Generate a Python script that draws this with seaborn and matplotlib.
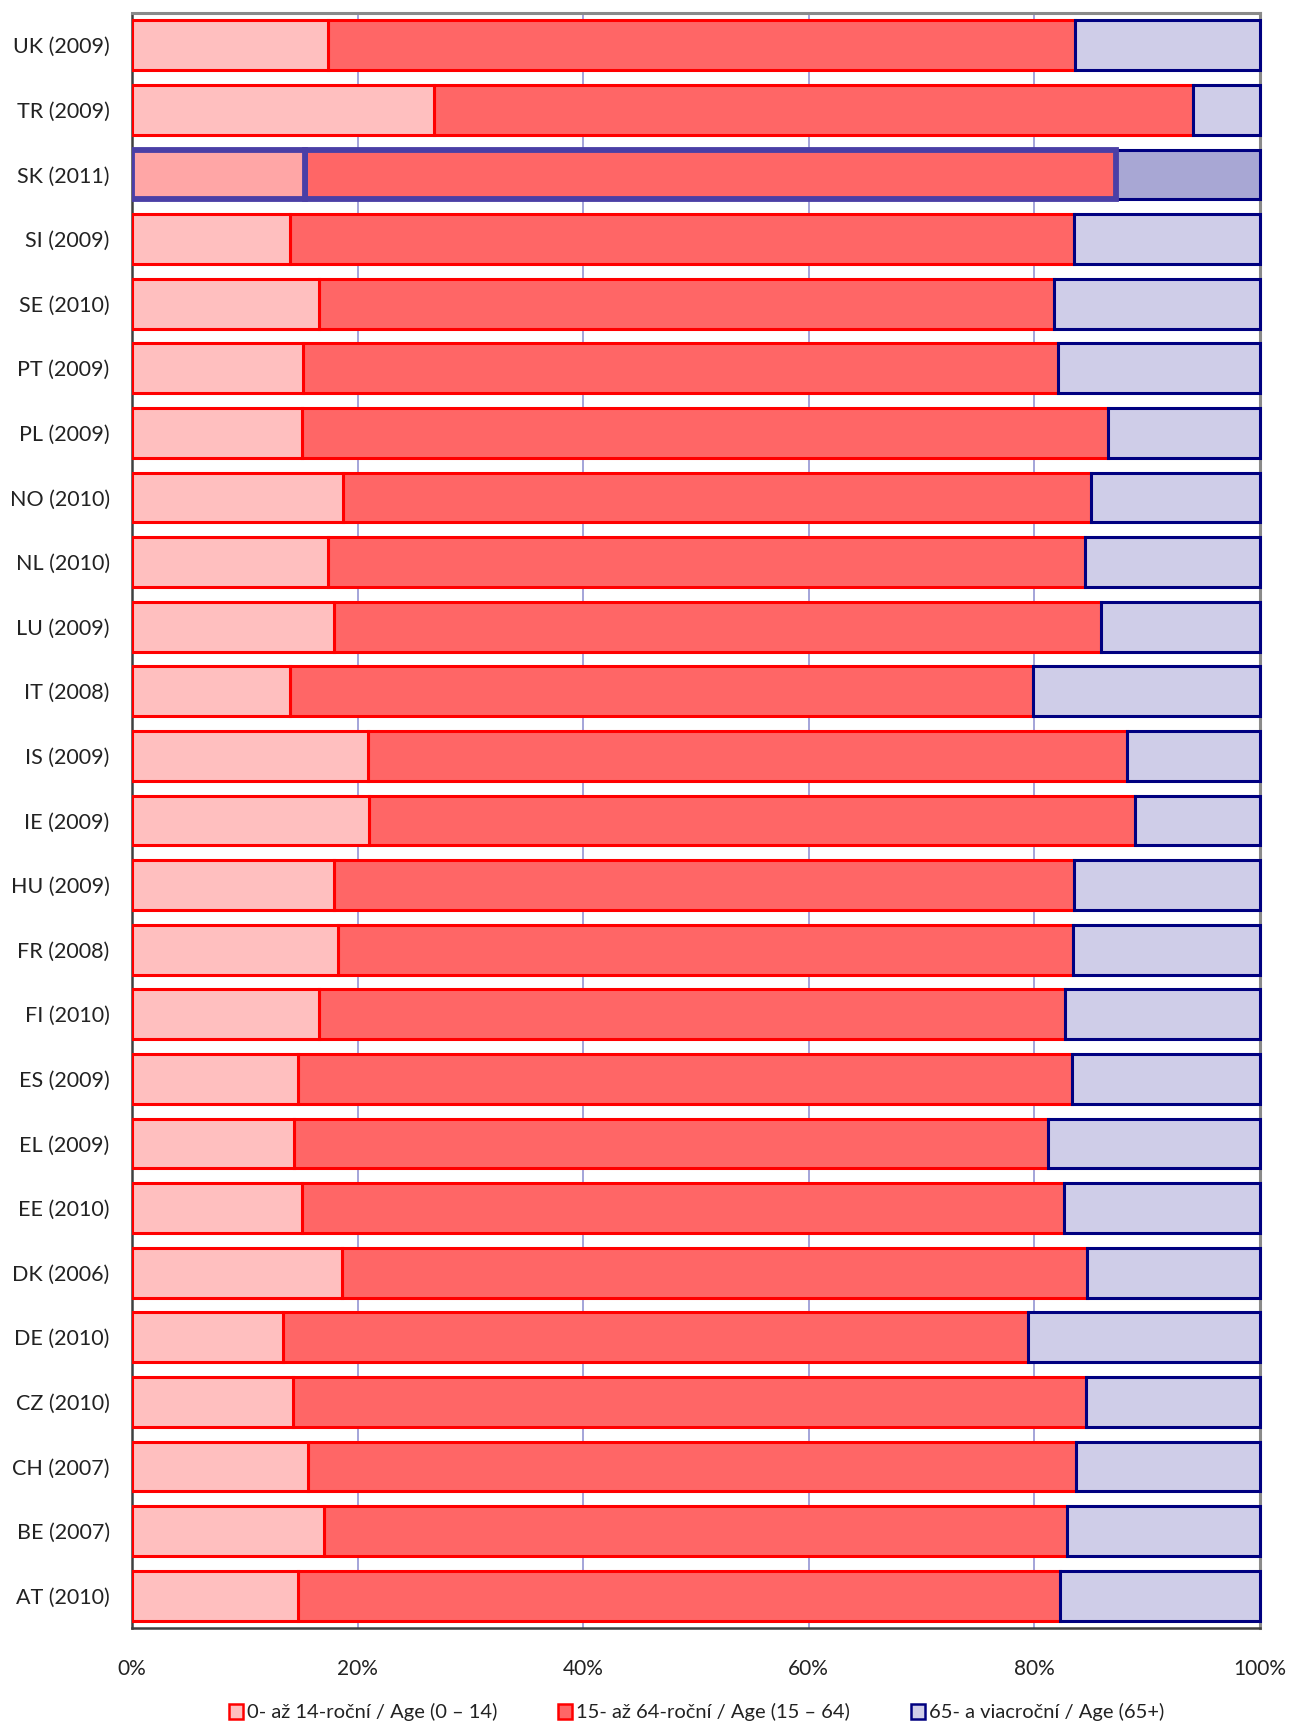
import numpy as np
import pandas as pd
import matplotlib
matplotlib.use("Agg")
import matplotlib.pyplot as plt
import seaborn as sns
from matplotlib.patches import Patch
from matplotlib.ticker import FixedLocator

countries = ["UK (2009)", "TR (2009)", "SK (2011)", "SI (2009)", "SE (2010)", "PT (2009)",
             "PL (2009)", "NO (2010)", "NL (2010)", "LU (2009)", "IT (2008)", "IS (2009)",
             "IE (2009)", "HU (2009)", "FR (2008)", "FI (2010)", "ES (2009)", "EL (2009)",
             "EE (2010)", "DK (2006)", "DE (2010)", "CZ (2010)", "CH (2007)", "BE (2007)",
             "AT (2010)"]
age_0_14 = [17.4, 26.8, 15.3, 14.0, 16.6, 15.2, 15.1, 18.75, 17.4, 17.9, 14.0, 20.9,
            21.0, 17.9, 18.3, 16.6, 14.7, 14.4, 15.1, 18.65, 13.4, 14.3, 15.6, 17.0, 14.7]
age_15_64 = [66.2, 67.3, 71.9, 69.5, 65.1, 66.9, 71.4, 66.25, 67.1, 68.0, 65.9, 67.3,
             67.9, 65.6, 65.1, 66.1, 68.6, 66.85, 67.5, 66.05, 66.0, 70.3, 68.1, 65.9, 67.6]
age_65 = [100 - a - b for a, b in zip(age_0_14, age_15_64)]
legend_labels = ["0- až 14-roční / Age (0 – 14)", "15- až 64-roční / Age (15 – 64)",
                 "65- a viacroční / Age (65+)"]
xtick_labels = ["0%", "20%", "40%", "60%", "80%", "100%"]

df = pd.DataFrame({"country": countries, "young": age_0_14, "work": age_15_64, "old": age_65})
df["cum_work"] = df["young"] + df["work"]
df["cum_old"] = df["cum_work"] + df["old"]

sns.set_style("white")
plt.rcParams["font.family"] = ["Lato", "DejaVu Sans"]

fig = plt.figure(figsize=(12.9, 17.27), dpi=100)
ax = fig.add_axes([0.1023, 0.0573, 0.8744, 0.9352])

HL = "SK (2011)"
c_young, c_work, c_old = "#FFBFBF", "#FF6666", "#CFCDE8"
hl_young, hl_old = "#FFA6A6", "#A8A7D4"

layers = [
    ("cum_old", {c: (hl_old if c == HL else c_old) for c in countries}, "#000080", 2.2),
    ("cum_work", {c: c_work for c in countries}, "#FF0000", 2.2),
    ("young", {c: (hl_young if c == HL else c_young) for c in countries}, "#FF0000", 2.2),
]
layer_patches = {}
for col, pal, ec, lw in layers:
    n_before = len(ax.patches)
    sns.barplot(data=df, x=col, y="country", hue="country", palette=pal, legend=False,
                order=countries, hue_order=countries, width=0.77, edgecolor=ec,
                linewidth=lw, orient="h", ax=ax, saturation=1)
    layer_patches[col] = list(ax.patches[n_before:])

# turn the cumulative bars into proper segments (start of each segment from the data)
def row_of(p):
    return int(round(p.get_y() + p.get_height() / 2))

for p in layer_patches["cum_old"]:
    i = row_of(p)
    p.set_x(df["cum_work"][i]); p.set_width(df["old"][i])
    p.set_zorder(3.2); p.set_clip_on(False)
for p in layer_patches["cum_work"]:
    i = row_of(p)
    p.set_x(df["young"][i]); p.set_width(df["work"][i])
    p.set_zorder(3.0)
for p in layer_patches["young"]:
    p.set_zorder(3.1)

idx_hl = countries.index(HL)
for col in ["cum_work", "young"]:
    for p in layer_patches[col]:
        if row_of(p) == idx_hl:
            p.set_edgecolor("#4A3FA6")
            p.set_linewidth(4.2)
            p.set_zorder(3.3)

ax.set_xlim(0, 100)
ax.set_ylim(len(countries) - 0.5, -0.5)
ax.set_xticks([0, 20, 40, 60, 80, 100])
ax.set_xticklabels(xtick_labels, fontsize=15, color="#222222")
ax.set_xlabel("")
ax.set_ylabel("")
ax.tick_params(axis="x", length=0, pad=22)
ax.tick_params(axis="y", which="major", length=0, pad=16, labelsize=15.5, labelcolor="#222222")
ax.yaxis.set_minor_locator(FixedLocator(np.arange(-0.5, len(countries), 1.0)))
ax.tick_params(axis="y", which="minor", length=6, width=1.5, color="#404040")

ax.grid(axis="x", color="#8C8CD0", linewidth=1.1, zorder=0)
ax.set_axisbelow(True)
for side in ["top", "right"]:
    ax.spines[side].set_color("#8A8A8A")
    ax.spines[side].set_linewidth(2.2)
for side in ["left", "bottom"]:
    ax.spines[side].set_color("#404040")
    ax.spines[side].set_linewidth(1.8)

handles = [Patch(facecolor=c_young, edgecolor="#FF0000", linewidth=1.8),
           Patch(facecolor=c_work, edgecolor="#FF0000", linewidth=1.8),
           Patch(facecolor=c_old, edgecolor="#000080", linewidth=1.8)]
fig.legend(handles, legend_labels, loc="center", bbox_to_anchor=(0.54, 0.0085), ncol=3,
           frameon=False, fontsize=14.5, handlelength=0.7, handleheight=0.8,
           handletextpad=0.2, columnspacing=3.0, labelcolor="#222222")

fig.savefig("out.png", dpi=100)
